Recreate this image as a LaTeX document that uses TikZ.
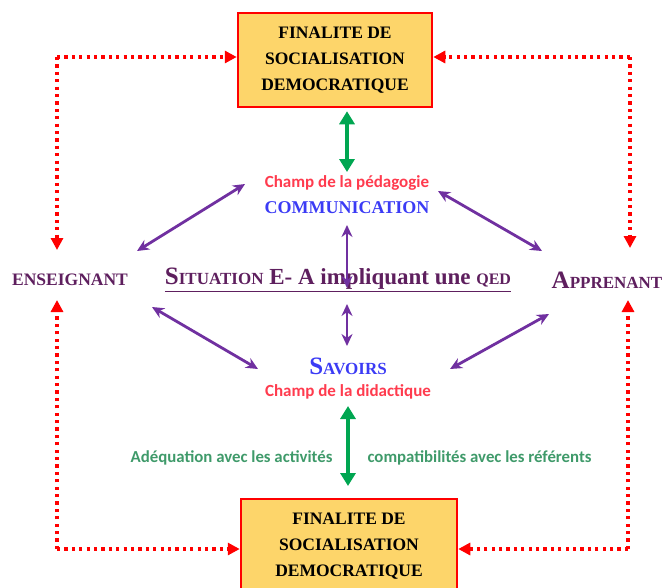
\documentclass[tikz,border=0pt]{standalone}
\usepackage{fontspec}
\setmainfont{Liberation Serif}
\newfontfamily\calib{Carlito}
\usetikzlibrary{arrows.meta}

\definecolor{boxfill}{HTML}{FDD56A}
\definecolor{dotred}{HTML}{FF0000}
\definecolor{linkgreen}{HTML}{00A651}
\definecolor{linkpurple}{HTML}{7030A0}
\definecolor{txtblue}{HTML}{3B3BF5}
\definecolor{txtpink}{HTML}{FF3B4E}
\definecolor{txtgreen}{HTML}{3F9A6A}
\definecolor{txtplum}{HTML}{5E1F5E}

\newcommand{\fakesc}[2]{{\fontsize{25}{27}\selectfont #1}{\fontsize{17}{19}\selectfont #2}}

\begin{document}
\begin{tikzpicture}[x=1pt,y=-1pt,
    finbox/.style={draw=dotred,line width=2.5pt,fill=boxfill,minimum width=194pt,
      minimum height=94pt,align=center,font=\fontsize{17.5}{26}\selectfont\bfseries,inner sep=0pt},
    redlink/.style={dotred,line width=3.2pt,dash pattern=on 3.2pt off 4.2pt,
      -{Triangle[length=12pt,width=12pt]}},
    greenlink/.style={linkgreen,line width=4.5pt,
      {Triangle[length=13pt,width=15pt]}-{Triangle[length=13pt,width=15pt]}},
    purplelink/.style={linkpurple,line width=2.8pt,
      {Stealth[length=12pt,width=11pt]}-{Stealth[length=12pt,width=11pt]}},
    pinklabel/.style={txtpink,font=\calib\bfseries\fontsize{17}{19}\selectfont},
    greenlabel/.style={txtgreen,font=\calib\bfseries\fontsize{16.8}{19}\selectfont},
    sidelabel/.style={txtplum,font=\bfseries}]
  \useasboundingbox (0,0) rectangle (663,587);

  % the two finality boxes
  \node[finbox] (fintop) at (335,60) {FINALITE DE\\SOCIALISATION\\DEMOCRATIQUE};
  \node[finbox,minimum width=216pt] (finbot) at (349,546) {FINALITE DE\\SOCIALISATION\\DEMOCRATIQUE};

  % centre texts
  \node[pinklabel] (peda) at (347,183) {Champ de la pédagogie};
  \node[txtblue,font=\bfseries\fontsize{18}{20}\selectfont] (comm) at (347,208) {COMMUNICATION};
  \node[txtplum,font=\bfseries] (situ) at (338,280)
    {\underline{\fakesc{S}{ITUATION}\fontsize{23}{26}\selectfont{} E- A impliquant une {\fontsize{16}{18}\selectfont QED}}};
  \node[txtblue,font=\bfseries] (savoirs) at (348,366) {\fakesc{S}{AVOIRS}};
  \node[pinklabel] (dida) at (348,392) {Champ de la didactique};
  \node[greenlabel,anchor=east] (adeq) at (336,458) {Adéquation avec les activités};
  \node[greenlabel,anchor=west] (compat) at (364,458) {compatibilités avec les référents};

  % the two actors
  \node[sidelabel,font=\bfseries\fontsize{17.5}{19}\selectfont] (ens) at (70,280) {ENSEIGNANT};
  \node[sidelabel] (app) at (607,280) {\fakesc{A}{PPRENANT}};

  \coordinate (ctl) at (57,57);
  \coordinate (ctr) at (630,57);
  \coordinate (cbl) at (57,549);
  \coordinate (cbr) at (628,549);

  % red dotted links
  \draw[redlink] (ctl) -- (fintop.west |- ctl);
  \draw[redlink] (ctl) -- (57,250);
  \draw[redlink] (ctr) -- (fintop.east |- ctr);
  \draw[redlink] (ctr) -- (630,248);
  \draw[redlink] (cbl) -- (57,300);
  \draw[redlink] (cbl) -- (finbot.west |- cbl);
  \draw[redlink] (cbr) -- (628,300);
  \draw[redlink] (cbr) -- (finbot.east |- cbr);

  % green links
  \draw[greenlink] (fintop.south -| peda) ++(0,3) -- (347,172);
  \draw[greenlink] (348,406) -- (348,486);

  % purple links
  \draw[purplelink] (245,184) -- (137,251);
  \draw[purplelink] (438,191) -- (542,251);
  \draw[purplelink] (347,225) -- (347,288);
  \draw[purplelink] (152,307) -- (258,369);
  \draw[purplelink] (347,304) -- (347,346);
  \draw[purplelink] (549,314) -- (450,369);
\end{tikzpicture}
\end{document}
